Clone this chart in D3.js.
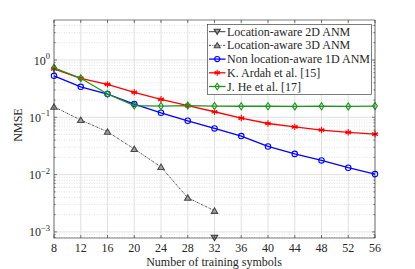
<!DOCTYPE html>
<html><head><meta charset="utf-8">
<script src="https://cdn.jsdelivr.net/npm/d3@7"></script>
<style>body{margin:0;background:#fff}svg{display:block}text{font-family:"Liberation Serif","DejaVu Serif",serif;fill:#262626}</style>
</head><body><svg id="c" width="415" height="269"></svg>
<script>
const symbols = [8,12,16,20,24,28,32,36,40,44,48,52,56];
const xTicks = [8,12,16,20,24,28,32,36,40,44,48,52,56];
const yTickExps = [-3,-2,-1,0];
const anm2dX = [32];
const anm2d = [0.00079];
const anm3dX = [8,12,16,20,24,28,32];
const anm3d = [0.153,0.0897,0.056,0.028,0.0136,0.00395,0.00234];
const nonLoc = [0.53,0.34,0.255,0.17,0.12,0.087,0.064,0.047,0.031,0.023,0.0177,0.0132,0.0102];
const ardah = [0.70,0.48,0.376,0.273,0.206,0.16,0.125,0.097,0.078,0.068,0.060,0.0547,0.051];
const he = [0.73,0.48,0.255,0.16,0.157,0.16,0.157,0.156,0.156,0.155,0.156,0.155,0.157];
const legendLabels = ["Location-aware 2D ANM","Location-aware 3D ANM","Non location-aware 1D ANM","K. Ardah et al. [15]","J. He et al. [17]"];
const xLabel = "Number of training symbols";
const yLabel = "NMSE";

const L=54,R=375,T=20,B=238;
const svg=d3.select("#c");
const x=d3.scaleLinear().domain([8,56]).range([L,R]);
const y=d3.scaleLog().domain([Math.pow(10,-3.106),Math.pow(10,0.698)]).range([B,T]);

// minor grid
const minors=[];
for(let e=-4;e<=0;e++)for(let m=2;m<=9;m++){const v=m*Math.pow(10,e);if(v>y.domain()[0]&&v<y.domain()[1])minors.push(v);}
svg.append("g").selectAll("line").data(minors).join("line")
 .attr("x1",L).attr("x2",R).attr("y1",d=>y(d)).attr("y2",d=>y(d))
 .attr("stroke","#d4d4d4").attr("stroke-width",0.7).attr("stroke-dasharray","1,1.5");
svg.append("g").selectAll("line").data(yTickExps).join("line")
 .attr("x1",L).attr("x2",R).attr("y1",d=>y(Math.pow(10,d))).attr("y2",d=>y(Math.pow(10,d)))
 .attr("stroke","#d8d8d8").attr("stroke-width",0.8);
svg.append("g").selectAll("line").data(xTicks).join("line")
 .attr("y1",T).attr("y2",B).attr("x1",d=>x(d)).attr("x2",d=>x(d))
 .attr("stroke","#d8d8d8").attr("stroke-width",0.8);

const line=d3.line().x(d=>x(d[0])).y(d=>y(d[1]));
function markerPath(type,s){
  const p=d3.path();
  if(type==="tdown"){p.moveTo(-s,-s*0.8);p.lineTo(s,-s*0.8);p.lineTo(0,s*0.9);p.closePath();}
  else if(type==="tup"){p.moveTo(-s,s*0.8);p.lineTo(s,s*0.8);p.lineTo(0,-s*0.9);p.closePath();}
  else if(type==="circle"){p.arc(0,0,s*0.85,0,2*Math.PI);}
  else if(type==="diamond"){p.moveTo(0,-s*1.1);p.lineTo(s*0.75,0);p.lineTo(0,s*1.1);p.lineTo(-s*0.75,0);p.closePath();}
  else if(type==="star"){for(let i=0;i<3;i++){const a=Math.PI/2+i*Math.PI/3;p.moveTo(Math.cos(a)*s,Math.sin(a)*s);p.lineTo(-Math.cos(a)*s,-Math.sin(a)*s);}p.moveTo(-s,0);p.lineTo(s,0);}
  return p.toString();
}
const series=[
 {xs:anm2dX,ys:anm2d,color:"#3a3a3a",dash:null,mk:"tdown",mfill:"#a0a0a0",w:1},
 {xs:anm3dX,ys:anm3d,color:"#4a4a4a",dash:"2,1,0.7,1",mk:"tup",mfill:"#a0a0a0",w:1},
 {xs:symbols,ys:nonLoc,color:"#0000ff",dash:null,mk:"circle",mfill:"none",w:1.3},
 {xs:symbols,ys:ardah,color:"#ff0000",dash:null,mk:"star",mfill:"none",w:1.3},
 {xs:symbols,ys:he,color:"#1a961a",dash:null,mk:"diamond",mfill:"none",w:1.3}
];
const gp=svg.append("g");
series.forEach(s=>{
  const pts=s.xs.map((v,i)=>[v,s.ys[i]]);
  gp.append("path").datum(pts).attr("d",line).attr("fill","none").attr("stroke",s.color)
    .attr("stroke-width",s.w).attr("stroke-dasharray",s.dash);
  gp.append("g").selectAll("path").data(pts).join("path")
    .attr("transform",d=>`translate(${x(d[0])},${y(d[1])})`)
    .attr("d",markerPath(s.mk,3.2)).attr("fill",s.mfill).attr("stroke",s.color).attr("stroke-width",1.1);
});

// axes box & ticks
const ax=svg.append("g").attr("stroke","#262626").attr("stroke-width",0.6);
ax.append("rect").attr("x",L).attr("y",T).attr("width",R-L).attr("height",B-T).attr("fill","none");
xTicks.forEach(t=>{
  ax.append("line").attr("x1",x(t)).attr("x2",x(t)).attr("y1",B).attr("y2",B-3);
  ax.append("line").attr("x1",x(t)).attr("x2",x(t)).attr("y1",T).attr("y2",T+3);
});
yTickExps.forEach(e=>{
  const yy=y(Math.pow(10,e));
  ax.append("line").attr("x1",L).attr("x2",L+3).attr("y1",yy).attr("y2",yy);
  ax.append("line").attr("x1",R).attr("x2",R-3).attr("y1",yy).attr("y2",yy);
});
minors.forEach(v=>{
  const yy=y(v);
  ax.append("line").attr("x1",L).attr("x2",L+1.6).attr("y1",yy).attr("y2",yy);
  ax.append("line").attr("x1",R).attr("x2",R-1.6).attr("y1",yy).attr("y2",yy);
});

// tick labels
svg.append("g").selectAll("text").data(xTicks).join("text")
 .attr("x",d=>x(d)).attr("y",251.5).attr("text-anchor","middle").attr("font-size",12).text(d=>d);
const yl=svg.append("g").selectAll("text").data(yTickExps).join("text")
 .attr("x",50).attr("y",d=>y(Math.pow(10,d))+4.5).attr("text-anchor","end").attr("font-size",12);
yl.append("tspan").text("10");
yl.append("tspan").attr("font-size",8.5).attr("dy",-5.5).text(d=>d===0?"0":"\u2212"+(-d));

svg.append("text").attr("x",214).attr("y",265.5).attr("text-anchor","middle").attr("font-size",12).text(xLabel);
svg.append("text").attr("transform",`translate(22,${(T+B)/2-4}) rotate(-90)`).attr("text-anchor","middle").attr("font-size",12).text(yLabel);

// legend
const lg=svg.append("g");
lg.append("rect").attr("x",207.5).attr("y",24.5).attr("width",164).attr("height",70).attr("fill","#fff").attr("stroke","#262626").attr("stroke-width",0.6);
legendLabels.forEach((lab,i)=>{
  const yy=31.7+i*13.7, s=series[i];
  lg.append("line").attr("x1",209).attr("x2",225.5).attr("y1",yy).attr("y2",yy).attr("stroke",s.color).attr("stroke-width",s.w).attr("stroke-dasharray",s.dash);
  lg.append("path").attr("transform",`translate(217.2,${yy})`).attr("d",markerPath(s.mk,3.0)).attr("fill",s.mfill).attr("stroke",s.color).attr("stroke-width",1.1);
  lg.append("text").attr("x",227).attr("y",yy+4).attr("font-size",12).text(lab);
});
</script></body></html>
